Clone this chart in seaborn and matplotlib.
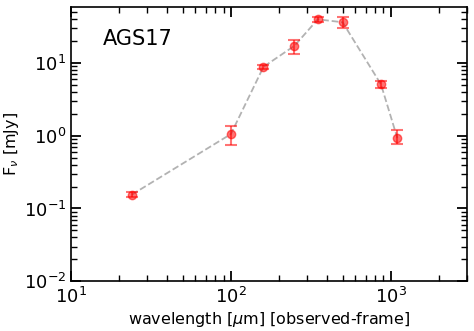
import matplotlib
matplotlib.use("Agg")
import matplotlib.pyplot as plt
import seaborn as sns
import numpy as np
import pandas as pd

# observed-frame photometry for AGS17
wavelength = [24, 100, 160, 250, 350, 500, 870, 1100]
flux = [0.155, 1.05, 8.8, 17.1, 39.5, 36.0, 5.05, 0.93]
err_lo = [0.012, 0.30, 0.6, 3.9, 3.0, 6.0, 0.5, 0.17]
err_hi = [0.012, 0.30, 0.6, 3.6, 3.0, 6.0, 0.5, 0.26]

df = pd.DataFrame({"wavelength": wavelength, "flux": flux})

sns.set_style("ticks")
plt.rcParams['font.family'] = ['DejaVu Sans']
for k in ["text.color", "axes.labelcolor", "xtick.color", "ytick.color", "axes.edgecolor"]:
    plt.rcParams[k] = "black"

fig, ax = plt.subplots(figsize=(4.74, 3.31), dpi=100)

sns.lineplot(data=df, x="wavelength", y="flux", ax=ax, color="gray",
             linestyle="--", alpha=0.6, lw=1.3, zorder=1)
ax.errorbar(df["wavelength"], df["flux"], yerr=[err_lo, err_hi],
            fmt="o", color="red", alpha=0.55, ms=6, capsize=4,
            elinewidth=1.5, capthick=1.5, zorder=2)

ax.set_xscale("log")
ax.set_yscale("log")
ax.set_xlim(10, 3000)
ax.set_ylim(0.01, 59)
ax.set_xlabel(r"wavelength [$\mu$m] [observed-frame]", fontsize=11.5, labelpad=2)
ax.set_ylabel(r"F$_\nu$ [mJy]", fontsize=11.5, labelpad=2)
ax.tick_params(which="both", direction="in", top=True, right=True,
               labelsize=13)
ax.tick_params(axis="x", pad=4)
ax.tick_params(which="major", length=7, width=1.3)
ax.tick_params(which="minor", length=4, width=1)
for s in ax.spines.values():
    s.set_linewidth(1.2)

ax.text(0.08, 0.86, "AGS17", transform=ax.transAxes, fontsize=15)

fig.subplots_adjust(left=0.15, right=0.985, bottom=0.15, top=0.98)
fig.savefig("out.png", dpi=100)
